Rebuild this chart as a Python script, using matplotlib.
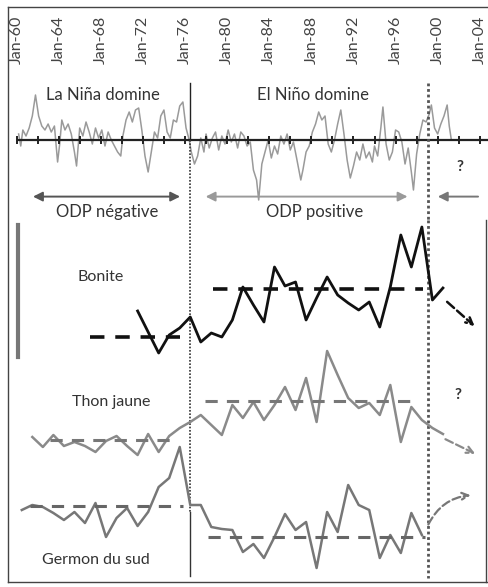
import matplotlib
matplotlib.use("Agg")
import matplotlib.pyplot as plt
from matplotlib.lines import Line2D
import numpy as np

plt.rcParams['font.family'] = ['Lato', 'DejaVu Sans']

# ---- data ----
# ENSO index (top panel), positive = La Nina
enso_years = [1960.2, 1960.4, 1960.6, 1960.9, 1961.2, 1961.5, 1961.8, 1962.1, 1962.4, 1962.7,
              1963.0, 1963.3, 1963.6, 1963.9, 1964.1, 1964.3, 1964.6, 1964.9, 1965.2, 1965.5,
              1965.7, 1966.0, 1966.3, 1966.6, 1966.9, 1967.2, 1967.5, 1967.8, 1968.1, 1968.4,
              1968.7, 1969.0, 1969.3, 1969.6, 1969.9, 1970.1, 1970.4, 1970.7, 1971.0, 1971.3,
              1971.6, 1971.9, 1972.2, 1972.5, 1972.8, 1973.1, 1973.4, 1973.7, 1974.0, 1974.3,
              1974.6, 1974.9, 1975.2, 1975.5, 1975.8, 1976.1, 1976.4, 1976.6, 1976.9, 1977.2,
              1977.5, 1977.8, 1978.0, 1978.3, 1978.6, 1978.9, 1979.2, 1979.5, 1979.8, 1980.1,
              1980.4, 1980.7, 1981.0, 1981.3, 1981.6, 1981.9, 1982.2, 1982.5, 1982.8, 1983.0,
              1983.3, 1983.6, 1983.9, 1984.2, 1984.5, 1984.8, 1985.1, 1985.4, 1985.7, 1986.0,
              1986.3, 1986.6, 1987.0, 1987.2, 1987.5, 1987.8, 1988.1, 1988.4, 1988.7, 1989.0,
              1989.3, 1989.6, 1989.9, 1990.2, 1990.5, 1990.8, 1991.1, 1991.4, 1991.7, 1992.0,
              1992.3, 1992.6, 1992.9, 1993.2, 1993.5, 1993.8, 1994.0, 1994.3, 1994.6, 1994.8,
              1995.1, 1995.4, 1995.7, 1996.0, 1996.3, 1996.6, 1996.9, 1997.2, 1997.5, 1997.7,
              1998.0, 1998.3, 1998.6, 1998.9, 1999.2, 1999.4, 1999.7, 2000.0, 2000.3, 2000.6,
              2000.9, 2001.1, 2001.3]
enso_values = [0.3, -0.3, 0.5, 0.2, 0.6, 1.2, 2.25, 1.2, 0.7, 0.5,
               0.8, 0.4, 0.7, -1.1, -0.2, 1.0, 0.5, 0.8, 0.3, -0.6,
               -1.3, 0.6, 0.2, 0.9, 0.4, -0.2, 0.6, 0.1, 0.5, -0.3,
               0.4, 0.0, -0.3, -0.6, -0.8, 0.2, 1.0, 1.4, 0.9, 1.5,
               1.6, 0.5, -0.8, -1.6, -0.6, 0.4, 0.1, 1.2, 1.5, 0.4,
               0.1, 1.0, 0.9, 1.7, 1.9, 0.6, 0.0, -0.6, -1.2, -0.8,
               0.1, -0.6, 0.3, -0.4, 0.1, 0.4, -0.5, 0.2, -0.2, 0.5,
               -0.1, 0.3, -0.4, 0.4, 0.2, -0.3, -0.1, -1.5, -2.0, -3.0,
               -1.2, -0.6, 0.0, -0.9, -0.3, -0.7, 0.2, -0.2, 0.3, -0.5,
               -0.1, -0.9, -2.0, -1.5, -0.6, -0.3, 0.4, 0.8, 1.4, 1.0,
               1.2, -0.2, -0.6, 0.0, 0.8, 1.5, 0.3, -1.0, -1.9, -1.3,
               -0.6, -1.0, -0.2, -0.9, -0.6, -1.1, -0.3, -0.8, 0.6, 1.65,
               -0.2, -1.0, -0.6, 0.5, 0.4, -0.1, -1.2, -0.4, -1.6, -2.5,
               -0.7, 0.3, 1.0, 0.9, 1.3, 1.75, 0.6, 0.3, 0.8, 1.2,
               1.75, 0.7, 0.0]

tick_years = [1960, 1964, 1968, 1972, 1976, 1980, 1984, 1988, 1992, 1996, 2000, 2004]
tick_labels = ["Jan-60", "Jan-64", "Jan-68", "Jan-72", "Jan-76", "Jan-80",
               "Jan-84", "Jan-88", "Jan-92", "Jan-96", "Jan-00", "Jan-04"]

# catch indices (relative units, 0 = mean before 1976)
bonite_years = np.arange(1971.5, 2001, 1.0)
bonite = [2.6, 0.5, -1.6, 0.2, 0.9, 2.0, -0.5, 0.4, 0.0, 1.7,
          5.0, 3.2, 1.5, 7.0, 5.1, 5.5, 1.7, 3.9, 6.0, 4.2,
          3.4, 2.7, 3.5, 1.0, 5.0, 10.2, 7.0, 11.0, 3.7, 4.9]

thon_years = np.arange(1961.5, 2001, 1.0)
thon = [0.3, -0.7, 0.5, -0.6, -0.2, -0.6, -1.2, -0.1, 0.4, -0.6,
        -1.5, 0.6, -1.2, 0.4, 1.2, 1.8, 2.5, 1.5, 0.5, 3.5,
        2.2, 3.8, 2.0, 3.5, 5.3, 3.0, 6.2, 1.8, 8.9, 6.5,
        4.2, 3.2, 3.7, 2.5, 5.5, -0.2, 3.3, 2.0, 1.2, 0.6]

germon_years = np.arange(1960.5, 1999, 1.0)
germon = [-0.4, 0.1, -0.1, -0.7, -1.4, -0.6, -1.7, 0.3, -3.1, -1.2,
          -0.2, -2.0, -0.6, 1.9, 2.8, 5.9, 0.1, 0.1, -2.1, -2.3,
          -2.4, -4.6, -3.8, -5.2, -3.1, -0.8, -2.4, -1.6, -6.2, -0.6,
          -2.6, 2.1, 0.1, -0.4, -5.2, -2.9, -4.7, -0.7, -2.9]

# regime means: (start, end, level)
bonite_means = [(1967.0, 1975.5, 0.0), (1978.7, 1998.6, 4.8)]
thon_means = [(1963.2, 1975.2, 0.0), (1977.9, 1997.6, 3.9)]
germon_means = [(1961.3, 1975.8, 0.0), (1978.2, 1998.8, -3.1)]

shift1 = 1976.5
shift2 = 1999.1

# ---- layout ----
W, H = 488, 587
XMIN, XMAX = 1958.43, 2004.78


def fx(px):
    return px / W


def fy(px):
    return 1 - px / H


fig = plt.figure(figsize=(W / 100, H / 100), dpi=100)

ax_top = fig.add_axes([0, fy(220), 1, (220 - 7) / H])
ax_top.set_xlim(XMIN, XMAX)
ax_top.set_ylim(-4.0, 6.65)
ax_top.axis('off')

ax_low = fig.add_axes([0, 0, 1, (H - 220) / H])
ax_low.set_xlim(XMIN, XMAX)
ax_low.set_ylim(0, 36.7)
ax_low.axis('off')

# frame
for (x0, y0, x1, y1) in [(8, 7, 488, 7), (8, 7, 8, 582), (8, 582, 488, 582), (486, 220, 486, 582)]:
    fig.add_artist(Line2D([fx(x0), fx(x1)], [fy(y0), fy(y1)], color='#444444', lw=1.0))

# top panel
for yr, lab in zip(tick_years, tick_labels):
    ax_top.text(yr, 5.0, lab, rotation=90, ha='center', va='center', fontsize=11.5, color='#444444')

ax_top.plot(enso_years, enso_values, color='#9a9a9a', lw=1.1)
ax_top.plot([1960.14, XMAX], [0, 0], color='#222222', lw=1.6)
ax_top.plot(np.arange(1960, 2005, 2), np.zeros(len(np.arange(1960, 2005, 2))), ls='none',
            marker='|', ms=6, mew=1.4, color='#222222')

ax_top.plot([shift1, shift1], [2.85, 0], color='#222222', lw=1.0)
ax_top.plot([shift1, shift1], [0, -4.0], color='#333333', lw=1.2, ls=(0, (1, 1)))
ax_top.plot([shift2, shift2], [2.85, -4.0], color='#555555', lw=2.0, ls=(0, (1, 1)))

ax_top.text(1968.2, 2.25, "La Niña domine", ha='center', va='center', fontsize=12, color='#333333')
ax_top.text(1988.2, 2.25, "El Niño domine", ha='center', va='center', fontsize=12, color='#333333')
ax_top.text(1968.6, -3.6, "ODP négative", ha='center', va='center', fontsize=12, color='#333333')
ax_top.text(1988.35, -3.6, "ODP positive", ha='center', va='center', fontsize=12, color='#333333')
ax_top.text(2002.1, -1.35, "?", ha='center', va='center', fontsize=11, color='#333333', fontweight='bold')

ax_top.annotate("", xy=(1961.3, -2.83), xytext=(1975.8, -2.83),
                arrowprops=dict(arrowstyle='<|-|>', color='#555555', lw=1.4, mutation_scale=14))
ax_top.annotate("", xy=(1977.7, -2.83), xytext=(1997.4, -2.83),
                arrowprops=dict(arrowstyle='<|-|>', color='#9a9a9a', lw=1.4, mutation_scale=14))
ax_top.annotate("", xy=(1999.75, -2.83), xytext=(2004.1, -2.83),
                arrowprops=dict(arrowstyle='-|>', color='#777777', lw=1.4, mutation_scale=14))

# lower panel
BON_OFF = 25.0
THON_OFF = 14.7
GERM_OFF = 8.1

ax_low.plot([1960.14, 1960.14], [23.0, 36.2], color='#777777', lw=3)

ax_low.plot([shift1, shift1], [36.7, 7.5], color='#333333', lw=1.2, ls=(0, (1, 1)))
ax_low.plot([shift1, shift1], [7.5, 1.1], color='#333333', lw=1.0)
ax_low.plot([shift2, shift2], [36.7, 0.9], color='#555555', lw=2.0, ls=(0, (1, 1)))

ax_low.plot(bonite_years, np.array(bonite) + BON_OFF, color='#111111', lw=2.0)
ax_low.plot(thon_years, np.array(thon) + THON_OFF, color='#8a8a8a', lw=1.8)
ax_low.plot(germon_years, np.array(germon) + GERM_OFF, color='#777777', lw=1.8)

for means, off, col, lw in [(bonite_means, BON_OFF, '#111111', 2.6),
                            (thon_means, THON_OFF, '#777777', 2.2),
                            (germon_means, GERM_OFF, '#666666', 2.2)]:
    for (a, b, lev) in means:
        ax_low.plot([a, b], [lev + off, lev + off], color=col, lw=lw, ls=(0, (4, 3)))

ax_low.annotate("", xy=(2003.7, BON_OFF + 0.9), xytext=(2000.7, BON_OFF + 3.7),
                arrowprops=dict(arrowstyle='->', color='#111111', lw=1.8, ls='--', mutation_scale=12))
ax_low.annotate("", xy=(2003.8, THON_OFF - 1.5), xytext=(2000.5, THON_OFF + 0.2),
                arrowprops=dict(arrowstyle='->', color='#8a8a8a', lw=1.6, ls='--', mutation_scale=12))
ax_low.annotate("", xy=(2003.4, GERM_OFF + 1.1), xytext=(1999.0, GERM_OFF - 2.1),
                arrowprops=dict(arrowstyle='->', color='#777777', lw=1.6, ls='--', mutation_scale=12,
                                connectionstyle='arc3,rad=-0.3'))

ax_low.text(1968.0, 31.0, "Bonite", ha='center', va='center', fontsize=11.5, color='#333333')
ax_low.text(1969.0, 18.5, "Thon jaune", ha='center', va='center', fontsize=11.5, color='#333333')
ax_low.text(1967.55, 2.7, "Germon du sud", ha='center', va='center', fontsize=11.5, color='#333333')
ax_low.text(2001.9, 19.2, "?", ha='center', va='center', fontsize=11, color='#333333', fontweight='bold')

fig.savefig("out.png", dpi=100)
